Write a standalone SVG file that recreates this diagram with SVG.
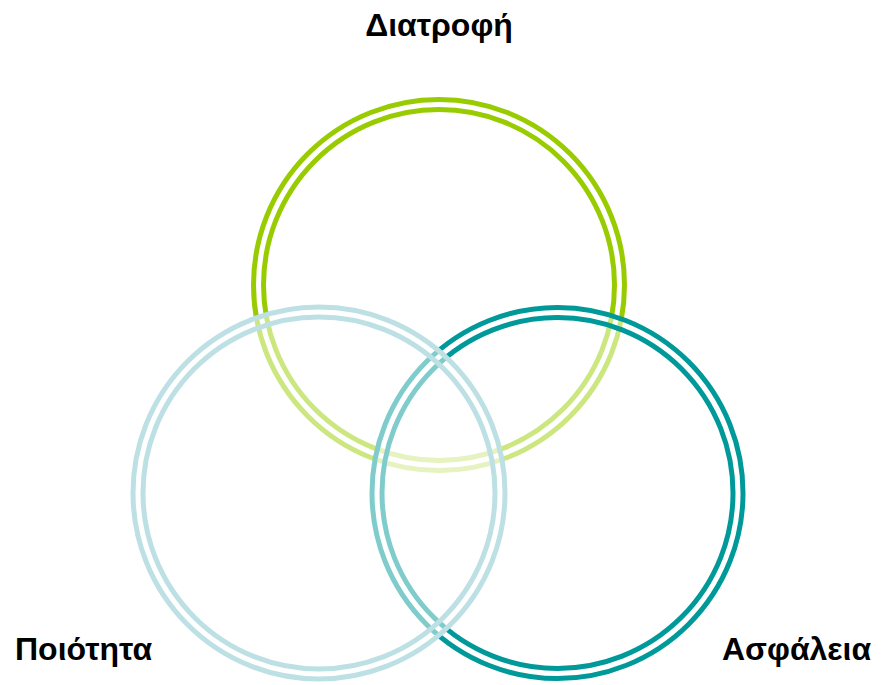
<svg xmlns="http://www.w3.org/2000/svg" width="885" height="685" viewBox="0 0 885 685">
<style>
.ring{fill:#ffffff;fill-opacity:0.5;stroke-width:5}
.lbl{font-family:"Liberation Sans",Arial,sans-serif;font-weight:bold;font-size:32px;fill:#000}
</style>
<rect width="885" height="685" fill="#fff"/>
<g id="diatrofi">
<circle class="ring" cx="439" cy="285" r="185.5" stroke="#99cc00"/>
<circle cx="439" cy="285" r="175.5" fill="none" stroke="#99cc00" stroke-width="5"/>
</g>
<g id="asfaleia">
<circle class="ring" cx="557.5" cy="493" r="185.5" stroke="#009999"/>
<circle cx="557.5" cy="493" r="175.5" fill="none" stroke="#009999" stroke-width="5"/>
</g>
<g id="poiotita">
<circle class="ring" cx="319" cy="493" r="186" stroke="#bde0e4"/>
<circle cx="319" cy="493" r="176" fill="none" stroke="#bde0e4" stroke-width="5"/>
</g>
<g id="connectors"></g>
<text class="lbl" x="439" y="36" text-anchor="middle">Διατροφή</text>
<text class="lbl" x="15" y="660">Ποιότητα</text>
<text class="lbl" x="722" y="660">Ασφάλεια</text>
</svg>
